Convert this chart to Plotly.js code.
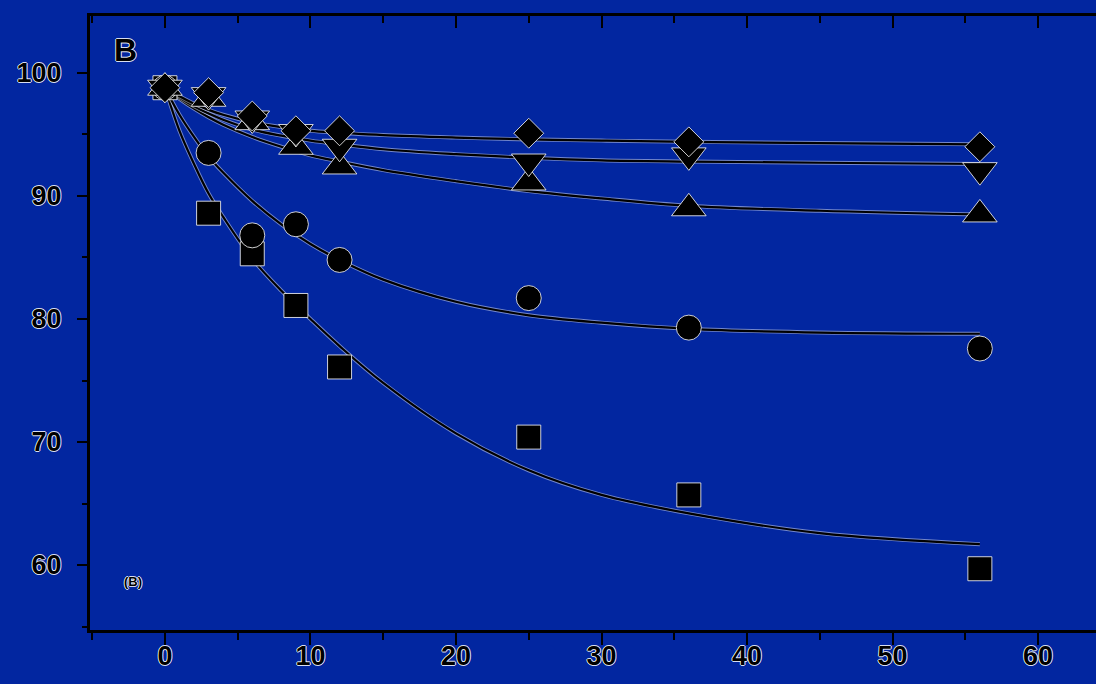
<!DOCTYPE html>
<html>
<head>
<meta charset="utf-8">
<script src="https://cdn.plot.ly/plotly-3.0.1.min.js"></script>
<style>
html,body{margin:0;padding:0;background:#0226a0;}
#chart{width:1096px;height:684px;}
</style>
</head>
<body>
<div id="chart"></div>
<script>
// Measured data points
const days = [0, 3, 6, 9, 12, 25, 36, 56];
const squareVals   = [98.8, 88.6, 85.3, 81.1, 76.1, 70.4, 65.7, 59.7];
const circleVals   = [98.8, 93.5, 86.8, 87.7, 84.8, 81.7, 79.3, 77.6];
const triUpVals    = [98.8, 97.9, 96.0, 94.0, 92.4, 91.1, 89.0, 88.5];
const triDownVals  = [98.8, 98.2, 96.3, 95.2, 94.0, 92.8, 93.3, 92.1];
const diamondVals  = [98.8, 98.4, 96.5, 95.3, 95.3, 95.1, 94.4, 94.0];

// Fitted curves
const fitX = [0, 1, 2, 3, 4, 6, 8, 10, 12, 15, 20, 25, 30, 36, 45, 56];
const squareFit  = [98.8, 95.3, 92.6, 90.2, 88.3, 84.9, 82.3, 80.0, 77.8, 74.8, 70.7, 67.7, 65.7, 64.2, 62.6, 61.7];
const circleFit  = [98.8, 96.6, 94.8, 93.2, 91.9, 89.6, 87.7, 86.1, 84.8, 83.2, 81.4, 80.3, 79.7, 79.2, 78.9, 78.8];
const triUpFit   = [98.8, 97.9, 97.1, 96.4, 95.8, 94.8, 94.0, 93.3, 92.8, 92.1, 91.2, 90.4, 89.8, 89.2, 88.8, 88.5];
const triDownFit = [98.8, 98.0, 97.3, 96.7, 96.2, 95.4, 94.9, 94.5, 94.2, 93.8, 93.4, 93.1, 92.9, 92.8, 92.7, 92.6];
const diamondFit = [98.8, 98.1, 97.5, 97.0, 96.6, 96.0, 95.6, 95.3, 95.15, 94.95, 94.75, 94.6, 94.5, 94.4, 94.3, 94.2];

const xTicks = [0, 10, 20, 30, 40, 50, 60];
const yTicks = [60, 70, 80, 90, 100];

const halo = '1px 0px 0px rgba(255,255,255,0.85), -1px 0px 0px rgba(255,255,255,0.85), 0px 1px 0px rgba(255,255,255,0.85), 0px -1px 0px rgba(255,255,255,0.85)';

const traces = [];
const fits = [squareFit, circleFit, triUpFit, triDownFit, diamondFit];
fits.forEach(f => {
  traces.push({x: fitX, y: f, mode: 'lines', line: {color: 'rgba(255,255,255,0.45)', width: 4, shape: 'spline'}, hoverinfo: 'skip', showlegend: false});
  traces.push({x: fitX, y: f, mode: 'lines', line: {color: '#000', width: 2.2, shape: 'spline'}, hoverinfo: 'skip', showlegend: false});
});
const series = [
  {v: squareVals, sym: 'square', size: 24},
  {v: circleVals, sym: 'circle', size: 25},
  {v: triUpVals, sym: 'triangle-up', size: 30},
  {v: triDownVals, sym: 'triangle-down', size: 30},
  {v: diamondVals, sym: 'diamond', size: 23}
];
series.forEach(s => {
  traces.push({x: days, y: s.v, mode: 'markers', marker: {symbol: s.sym, size: s.size, color: '#000', line: {color: 'rgba(255,255,255,0.8)', width: 1}}, showlegend: false});
});
// dummy trace for top axis
traces.push({x: [0], y: [100], xaxis: 'x2', mode: 'markers', marker: {opacity: 0}, hoverinfo: 'skip', showlegend: false});

const xr = [-5.15, 63.98];
const yr = [54.72, 104.63];
const tickFont = {family: 'Liberation Sans, Arial, sans-serif', size: 27, color: '#000', weight: 'bold', shadow: halo};

const layout = {
  width: 1096, height: 684,
  paper_bgcolor: '#0226a0', plot_bgcolor: '#0226a0',
  margin: {l: 90, r: 0, t: 16, b: 54},
  showlegend: false,
  xaxis: {
    range: xr, tickvals: xTicks, ticktext: xTicks.map(String),
    showgrid: false, zeroline: false, showline: true, linecolor: '#000', linewidth: 3,
    ticks: 'outside', ticklen: 12, tickwidth: 2, tickcolor: '#000',
    minor: {dtick: 5, tick0: 0, ticks: 'outside', ticklen: 7, tickwidth: 2, tickcolor: '#000'},
    tickfont: tickFont, ticklabelstandoff: -12
  },
  xaxis2: {
    range: xr, overlaying: 'x', side: 'top', tickvals: xTicks, showticklabels: false,
    showgrid: false, zeroline: false, showline: true, linecolor: '#000', linewidth: 3,
    ticks: 'inside', ticklen: 12, tickwidth: 2, tickcolor: '#000',
    minor: {dtick: 5, tick0: 0, ticks: 'inside', ticklen: 7, tickwidth: 2, tickcolor: '#000'}
  },
  yaxis: {
    range: yr, tickvals: yTicks, ticktext: yTicks.map(String),
    showgrid: false, zeroline: false, showline: true, linecolor: '#000', linewidth: 3,
    ticks: 'outside', ticklen: 10, tickwidth: 2, tickcolor: '#000',
    minor: {dtick: 5, tick0: 0, ticks: 'outside', ticklen: 5, tickwidth: 2, tickcolor: '#000'},
    tickfont: tickFont, ticklabelstandoff: 10
  },
  annotations: [
    {xref: 'paper', yref: 'paper', x: 0.035, y: 0.945, xanchor: 'center', yanchor: 'middle', text: '<b>B</b>', showarrow: false,
     font: {family: 'Liberation Sans, Arial, sans-serif', size: 32, color: '#000', shadow: halo}},
    {xref: 'paper', yref: 'paper', x: 0.043, y: 0.079, xanchor: 'center', yanchor: 'middle', text: '<b>(B)</b>', showarrow: false,
     font: {family: 'Liberation Sans, Arial, sans-serif', size: 13, color: '#000', shadow: halo}}
  ]
};

Plotly.newPlot('chart', traces, layout, {displayModeBar: false, staticPlot: true});
</script>
</body>
</html>
